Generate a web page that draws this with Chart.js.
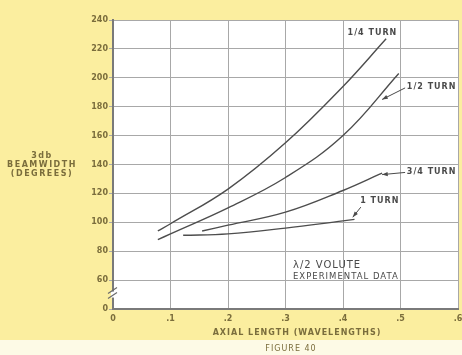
<!DOCTYPE html>
<html lang="en">
<head>
    <meta charset="UTF-8">
    <title>3db Beamwidth vs Axial Length</title>
    <script src="https://cdn.jsdelivr.net/npm/chart.js"></script>
    <style>
        body { margin: 0; background: #fdfae6; }
        #chart { display: block; }
    </style>
</head>
<body>
    <canvas id="chart" width="462" height="355"></canvas>

    <script>
        // values (axial length in wavelengths, beamwidth in degrees)
        const quarterX = [0.078, 0.1, 0.2, 0.3, 0.4, 0.475];
        const quarterY = [94, 99, 123, 155, 194, 227];
        const halfX = [0.078, 0.1, 0.2, 0.3, 0.4, 0.497];
        const halfY = [88, 92, 110, 131, 160, 203];
        const threeQX = [0.155, 0.2, 0.3, 0.4, 0.468];
        const threeQY = [94, 98, 107, 122, 134];
        const oneX = [0.122, 0.2, 0.3, 0.4, 0.42];
        const oneY = [91, 92, 96, 101, 102];

        const xTicks = [0, 0.1, 0.2, 0.3, 0.4, 0.5, 0.6];
        const yTicks = [40, 60, 80, 100, 120, 140, 160, 180, 200, 220, 240]; // 40 sits on the broken axis, shown as 0

        // curve labels, in data units: [text, x, y, leader from (x,y) to (x,y) or null]
        const curveLabels = [
            ['1/4 TURN', 0.408, 231, null],
            ['1/2 TURN', 0.511, 194, [0.468, 185, 0.508, 193]],
            ['3/4 TURN', 0.511, 135, [0.468, 133, 0.508, 134.5]],
            ['1 TURN', 0.430, 115, [0.417, 103.5, 0.431, 110.5]]
        ];

        const pts = (xs, ys) => xs.map((x, i) => ({ x: x, y: ys[i] }));
        const lineStyle = {
            borderColor: '#4d4d4d',
            borderWidth: 1.4,
            pointRadius: 0,
            fill: false,
            tension: 0.4
        };

        const ink = '#7a6d3c';
        const tickFont = { family: 'DejaVu Sans', size: 8, weight: 'bold' };

        const paper = {
            id: 'paper',
            beforeDraw(chart) {
                const c = chart.ctx, a = chart.chartArea;
                c.save();
                c.fillStyle = '#fdfae6';
                c.fillRect(0, 0, chart.width, chart.height);
                c.fillStyle = '#fbee9f';
                c.fillRect(0, 0, chart.width, 340);
                c.fillStyle = '#ffffff';
                c.fillRect(a.left, a.top, a.right - a.left, a.bottom - a.top);
                c.restore();
            },
            afterDraw(chart) {
                const c = chart.ctx, xs = chart.scales.x, ys = chart.scales.y;
                c.save();
                c.letterSpacing = '1.5px';
                c.fillStyle = ink;
                c.textAlign = 'center';
                c.textBaseline = 'middle';
                c.font = 'bold 8px "DejaVu Sans"';
                c.fillText('3db', 42, 156);
                c.fillText('BEAMWIDTH', 42, 165);
                c.fillText('(DEGREES)', 42, 174);
                c.letterSpacing = '1px';
                c.fillText('AXIAL LENGTH (WAVELENGTHS)', 297, 333);
                c.font = '8px "DejaVu Sans"';
                c.fillText('FIGURE 40', 291, 349);

                // axis break marks
                const bx = xs.left, by = ys.getPixelForValue(50);
                c.strokeStyle = '#6b6b6b';
                c.lineWidth = 1.2;
                c.fillStyle = '#ffffff';
                c.fillRect(bx - 2, by - 3, 5, 6);
                c.beginPath();
                c.moveTo(bx - 5, by - 1); c.lineTo(bx + 4, by - 7);
                c.moveTo(bx - 5, by + 4); c.lineTo(bx + 4, by - 2);
                c.stroke();

                // curve labels and leaders
                c.fillStyle = '#4a4a4a';
                c.textAlign = 'left';
                c.font = 'bold 8px "DejaVu Sans"';
                curveLabels.forEach(([t, x, y, lead]) => {
                    c.fillText(t, xs.getPixelForValue(x), ys.getPixelForValue(y));
                    if (lead) {
                        const x0 = xs.getPixelForValue(lead[0]), y0 = ys.getPixelForValue(lead[1]);
                        const x1 = xs.getPixelForValue(lead[2]), y1 = ys.getPixelForValue(lead[3]);
                        c.strokeStyle = '#4a4a4a';
                        c.lineWidth = 1;
                        c.beginPath();
                        c.moveTo(x0, y0); c.lineTo(x1, y1);
                        c.stroke();
                        const ang = Math.atan2(y0 - y1, x0 - x1);
                        c.beginPath();
                        c.moveTo(x0, y0);
                        c.lineTo(x0 - 6 * Math.cos(ang - 0.35), y0 - 6 * Math.sin(ang - 0.35));
                        c.lineTo(x0 - 6 * Math.cos(ang + 0.35), y0 - 6 * Math.sin(ang + 0.35));
                        c.closePath();
                        c.fill();
                    }
                });

                c.font = '10px "DejaVu Sans"';
                c.fillText('\u03BB/2 VOLUTE', xs.getPixelForValue(0.313), ys.getPixelForValue(70.5));
                c.font = '8.5px "DejaVu Sans"';
                c.fillText('EXPERIMENTAL DATA', xs.getPixelForValue(0.313), ys.getPixelForValue(62.5));
                c.restore();
            }
        };

        new Chart(document.getElementById('chart'), {
            type: 'line',
            data: {
                datasets: [
                    Object.assign({ label: '1/4 turn', data: pts(quarterX, quarterY) }, lineStyle),
                    Object.assign({ label: '1/2 turn', data: pts(halfX, halfY) }, lineStyle),
                    Object.assign({ label: '3/4 turn', data: pts(threeQX, threeQY) }, lineStyle),
                    Object.assign({ label: '1 turn', data: pts(oneX, oneY) }, lineStyle)
                ]
            },
            options: {
                responsive: false,
                animation: false,
                layout: { padding: { top: 20, right: 4 } },
                plugins: {
                    legend: { display: false },
                    tooltip: { enabled: false }
                },
                scales: {
                    x: {
                        type: 'linear',
                        min: 0,
                        max: 0.6,
                        afterBuildTicks: s => { s.ticks = xTicks.map(v => ({ value: v })); },
                        afterFit: s => { s.height = 46; s.paddingLeft = 0; s.paddingRight = 0; },
                        grid: { color: '#a8a8a8', lineWidth: 1, drawTicks: false },
                        border: { color: '#7a7a7a', width: 2 },
                        ticks: {
                            color: ink,
                            font: tickFont,
                            padding: 5,
                            autoSkip: false,
                            maxRotation: 0,
                            callback: v => v === 0 ? '0' : '.' + Math.round(v * 10)
                        }
                    },
                    y: {
                        type: 'linear',
                        min: 40,
                        max: 240,
                        afterBuildTicks: s => { s.ticks = yTicks.map(v => ({ value: v })); },
                        afterFit: s => { s.width = 113; },
                        grid: { color: '#a8a8a8', lineWidth: 1, tickLength: 4 },
                        border: { color: '#7a7a7a', width: 2 },
                        ticks: {
                            color: ink,
                            font: tickFont,
                            padding: 1,
                            autoSkip: false,
                            callback: v => v === 40 ? '0' : String(v)
                        }
                    }
                }
            },
            plugins: [paper]
        });
    </script>
</body>
</html>
